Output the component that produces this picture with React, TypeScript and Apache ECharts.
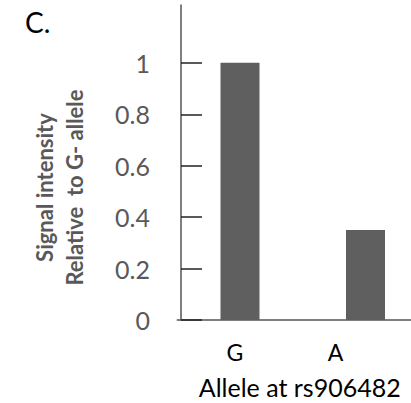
import React, { useEffect, useRef } from "react";
import * as echarts from "echarts";

const categories = ["G", "A"];
const values = [1.0, 0.35];
const yTicks = [0, 0.2, 0.4, 0.6, 0.8, 1];

export default function App() {
  const ref = useRef<HTMLDivElement>(null);
  useEffect(() => {
    document.body.style.margin = "0";
    const chart = echarts.init(ref.current!, null, { renderer: "svg" });
    const nameStyle = {
      fontSize: 22,
      fontWeight: "bold",
      color: "#595959",
      fontFamily: "Lato",
      lineHeight: 30,
      padding: [0, 50, 0, 0],
    };
    chart.setOption({
      animation: false,
      textStyle: { fontFamily: "Lato" },
      title: {
        text: "C.",
        left: 20,
        top: 3,
        textStyle: { fontFamily: "Lato", fontSize: 28, fontWeight: "normal", color: "#000" },
      },
      grid: {
        left: 177.25,
        top: 5,
        bottom: 83,
        width: 251,
        containLabel: false,
        outerBoundsMode: "none",
      },
      xAxis: {
        type: "category",
        data: categories,
        boundaryGap: true,
        axisLine: { lineStyle: { color: "#555", width: 1.5 } },
        axisTick: { show: false },
        axisLabel: {
          margin: 20,
          fontSize: 23,
          color: "#000",
          formatter: (v: string) => (v === "G" ? "{g|G}" : "{a|A}"),
          rich: {
            g: { fontSize: 23, color: "#000", fontFamily: "Lato", padding: [0, 10, 0, 0] },
            a: { fontSize: 23, color: "#000", fontFamily: "Lato", padding: [0, 60, 0, 0] },
          },
        },
        name: "Allele at rs906482",
        nameLocation: "middle",
        nameGap: 54,
        nameTextStyle: { fontSize: 25, color: "#000", fontFamily: "Lato", padding: [0, 6, 0, 0] },
      },
      yAxis: {
        type: "value",
        min: 0,
        max: 1.225,
        offset: -3.75,
        splitLine: { show: false },
        axisLine: { show: true, lineStyle: { color: "#555", width: 1.5 } },
        axisTick: {
          show: true,
          inside: true,
          length: 21,
          customValues: yTicks,
          lineStyle: { color: "#222", width: 1.5 },
        },
        axisLabel: {
          customValues: yTicks,
          margin: 31,
          fontSize: 25,
          color: "#595959",
          fontFamily: "Lato",
          formatter: (v: number) => String(Math.round(v * 10) / 10),
        },
        name: "{n|Signal intensity}\n{n|Relative  to G- allele}",
        nameLocation: "middle",
        nameRotate: 90,
        nameGap: 92,
        nameTextStyle: {
          fontSize: 22,
          fontWeight: "bold",
          color: "#595959",
          fontFamily: "Lato",
          lineHeight: 30,
          align: "center",
          rich: { n: nameStyle },
        },
      },
      series: [
        {
          type: "bar",
          data: values,
          barWidth: 39,
          itemStyle: { color: "#5f5f5f" },
        },
      ],
    });
    return () => chart.dispose();
  }, []);
  return <div ref={ref} style={{ width: 411, height: 403 }} />;
}
